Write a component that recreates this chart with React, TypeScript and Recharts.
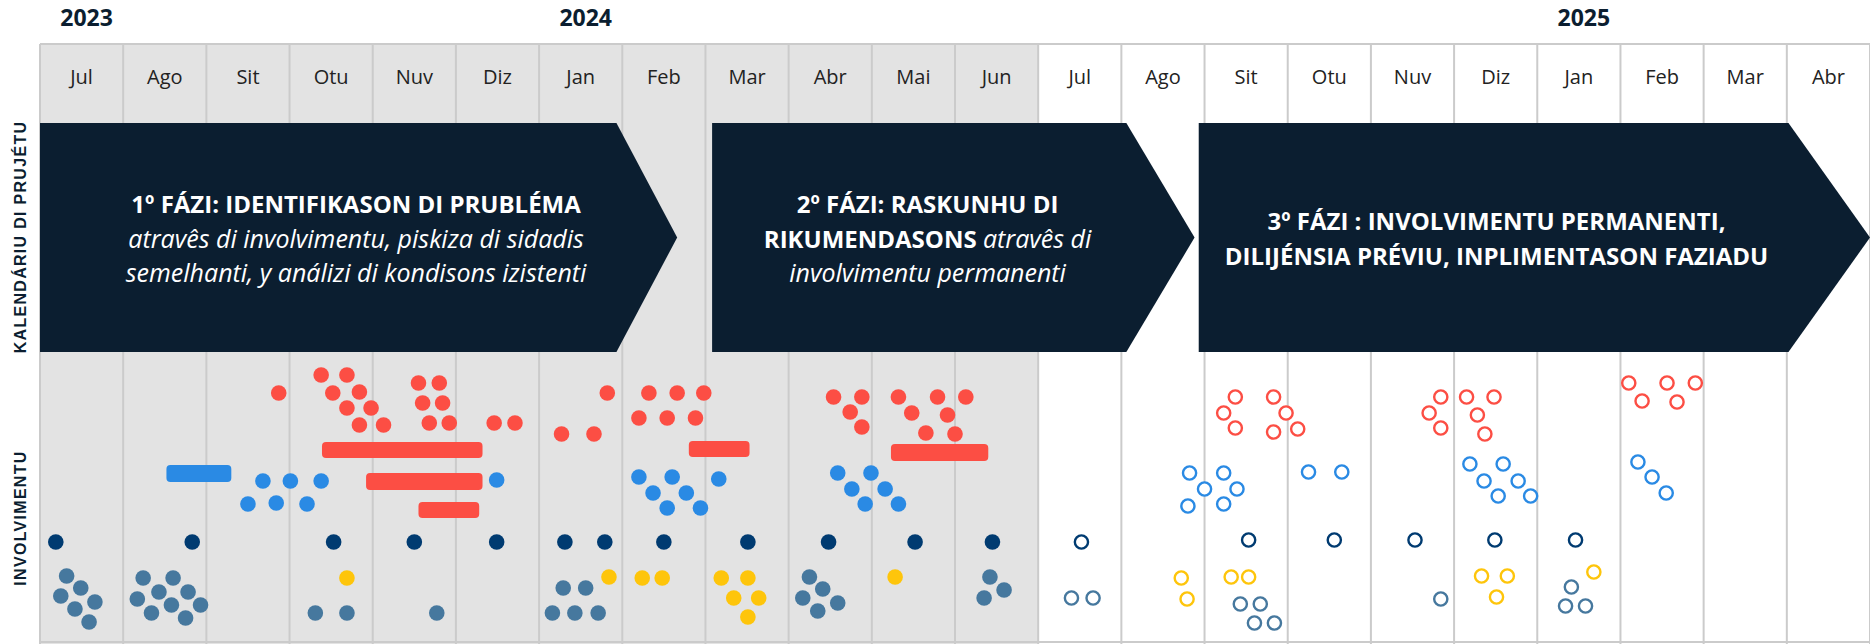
import {
  CartesianGrid,
  ComposedChart,
  ReferenceArea,
  ReferenceLine,
  Scatter,
  XAxis,
  YAxis,
} from 'recharts';

// timeline: one column per month, Jul 2023 .. Abr 2025
const months = [
  'Jul', 'Ago', 'Sit', 'Otu', 'Nuv', 'Diz', 'Jan', 'Feb', 'Mar', 'Abr', 'Mai', 'Jun',
  'Jul', 'Ago', 'Sit', 'Otu', 'Nuv', 'Diz', 'Jan', 'Feb', 'Mar', 'Abr',
];
const monthTicks = months.map((_, i) => i + 0.5);
const monthEdges = months.map((_, i) => i).concat(months.length);
const pastMonths = 12;

const years = ['2023', '2024', '2025'];
const yearStarts = [0, 6, 18];

const laneLabels = ['KALENDÁRIU DI PRUJÉTU', 'INVOLVIMENTU'];
const laneTicks = [40.7, 12.6];

// phase arrows: start, end of body, arrow tip, text centre (months)
type Seg = { text: string; italic?: boolean };
const phaseBand = [29.2, 52.1];
const phases: { start: number; bodyEnd: number; tip: number; textAt: number; lines: Seg[][] }[] = [
  {
    start: 0, bodyEnd: 6.93, tip: 7.66, textAt: 3.8,
    lines: [
      [{ text: '1º FÁZI: IDENTIFIKASON DI PRUBLÉMA' }],
      [{ text: 'atravês di involvimentu, piskiza di sidadis', italic: true }],
      [{ text: 'semelhanti, y análizi di kondisons izistenti', italic: true }],
    ],
  },
  {
    start: 8.08, bodyEnd: 13.06, tip: 13.88, textAt: 10.67,
    lines: [
      [{ text: '2º FÁZI: RASKUNHU DI' }],
      [{ text: 'RIKUMENDASONS ' }, { text: 'atravês di', italic: true }],
      [{ text: 'involvimentu permanenti', italic: true }],
    ],
  },
  {
    start: 13.93, bodyEnd: 21.02, tip: 22, textAt: 17.51,
    lines: [
      [{ text: '3º FÁZI : INVOLVIMENTU PERMANENTI,' }],
      [{ text: 'DILIJÉNSIA PRÉVIU, INPLIMENTASON FAZIADU' }],
    ],
  },
];

// engagement marks: [month, height]
const redFilled = [
  [2.87, 25.1], [3.38, 26.9], [3.69, 26.9], [3.52, 25.1], [3.84, 25.2], [3.69, 23.6], [3.98, 23.6],
  [3.84, 21.9], [4.13, 21.9], [4.55, 26.1], [4.8, 26.1], [4.6, 24.1], [4.84, 24.1], [4.68, 22.1],
  [4.92, 22.1], [5.46, 22.1], [5.71, 22.1], [6.82, 25.1], [6.27, 21.0], [6.66, 21.0],
  [7.32, 25.1], [7.66, 25.1], [7.98, 25.1], [7.2, 22.6], [7.54, 22.6], [7.88, 22.6],
  [9.54, 24.7], [9.88, 24.7], [9.74, 23.2], [9.88, 21.7], [10.32, 24.7], [10.79, 24.7],
  [11.13, 24.7], [10.48, 23.1], [10.91, 22.9], [10.65, 21.1], [11.0, 21.0],
];
const blueFilled = [
  [2.68, 16.3], [3.01, 16.3], [3.38, 16.3], [2.5, 14.0], [2.84, 14.1], [3.21, 14.0], [5.49, 16.4],
  [7.2, 16.7], [7.6, 16.7], [7.37, 15.1], [7.77, 15.1], [7.54, 13.6], [7.94, 13.6], [8.16, 16.5],
  [9.59, 17.1], [9.99, 17.1], [9.76, 15.5], [10.16, 15.5], [9.92, 14.0], [10.32, 14.0],
];
const navyFilled = [
  [0.19, 10.2], [1.83, 10.2], [3.53, 10.2], [4.5, 10.2], [5.49, 10.2], [6.31, 10.2],
  [6.79, 10.2], [7.5, 10.2], [8.51, 10.2], [9.48, 10.2], [10.52, 10.2], [11.45, 10.2],
];
const yellowFilled = [
  [3.69, 6.6], [6.84, 6.7], [7.24, 6.6], [7.48, 6.6], [8.19, 6.6], [8.51, 6.6],
  [8.34, 4.6], [8.64, 4.6], [8.51, 2.7], [10.28, 6.7],
];
const steelFilled = [
  [0.32, 6.8], [0.49, 5.6], [0.25, 4.8], [0.66, 4.2], [0.42, 3.5], [0.59, 2.2],
  [1.24, 6.6], [1.6, 6.6], [1.43, 5.2], [1.78, 5.2], [1.17, 4.5], [1.58, 3.9], [1.93, 3.9],
  [1.34, 3.1], [1.75, 2.6], [3.31, 3.1], [3.69, 3.1], [4.77, 3.1],
  [6.29, 5.6], [6.56, 5.6], [6.16, 3.1], [6.43, 3.1], [6.71, 3.1],
  [9.25, 6.7], [9.41, 5.5], [9.17, 4.6], [9.59, 4.1], [9.35, 3.3],
  [11.42, 6.7], [11.59, 5.4], [11.35, 4.6],
];
const redOpen = [
  [14.37, 24.7], [14.23, 23.1], [14.37, 21.6], [14.83, 24.7], [14.98, 23.1], [14.83, 21.2], [15.12, 21.5],
  [16.84, 24.7], [16.7, 23.1], [16.84, 21.6], [17.15, 24.7], [17.48, 24.7], [17.28, 22.9], [17.37, 21.0],
  [19.1, 26.1], [19.56, 26.1], [19.9, 26.1], [19.26, 24.3], [19.68, 24.2],
];
const blueOpen = [
  [13.82, 17.1], [14.23, 17.1], [14.0, 15.5], [14.39, 15.5], [13.8, 13.8], [14.23, 14.0],
  [15.25, 17.2], [15.65, 17.2],
  [17.19, 18.0], [17.59, 18.0], [17.36, 16.3], [17.77, 16.3], [17.53, 14.8], [17.92, 14.8],
  [19.21, 18.2], [19.38, 16.7], [19.55, 15.1],
];
const navyOpen = [
  [12.52, 10.2], [14.53, 10.4], [15.56, 10.4], [16.53, 10.4], [17.49, 10.4], [18.46, 10.4],
];
const yellowOpen = [
  [13.72, 6.6], [13.79, 4.5], [14.32, 6.7], [14.53, 6.7], [17.33, 6.8], [17.64, 6.8], [17.51, 4.7], [18.68, 7.2],
];
const steelOpen = [
  [12.4, 4.6], [12.66, 4.6], [14.43, 4.0], [14.67, 4.0], [14.6, 2.1], [14.84, 2.1],
  [16.84, 4.5], [18.41, 5.7], [18.34, 3.8], [18.58, 3.8],
];

// longer engagements: [from, to, low, high]
const redSpans = [
  [3.39, 5.32, 18.6, 20.2], [3.92, 5.32, 15.4, 17.1], [4.55, 5.28, 12.6, 14.2],
  [7.8, 8.53, 18.7, 20.3], [10.23, 11.4, 18.3, 20.0],
];
const blueSpans = [[1.52, 2.3, 16.2, 17.9]];

const RED = '#fc4e44';
const BLUE = '#2a8ae4';
const NAVY = '#003b71';
const YELLOW = '#fec50b';
const STEEL = '#46789e';
const INK = '#0b1e30';
const GRID = '#cbcbcb';
const FONT = '"Open Sans", sans-serif';

const pts = (arr: number[][]) => arr.map(([m, h]) => ({ m, h }));

const filled = (color: string) => (p: any) => (
  <circle cx={p.cx} cy={p.cy} r={7.8} fill={color} />
);
const open = (color: string) => (p: any) => (
  <circle cx={p.cx} cy={p.cy} r={6.6} fill="#fff" stroke={color} strokeWidth={2.4} />
);
const pill = (color: string) => (p: any) => (
  <rect x={p.x} y={p.y} width={p.width} height={p.height} rx={4} fill={color} />
);

const arrow = (ph: (typeof phases)[number]) => (p: any) => {
  const { x, y, width, height } = p;
  const per = width / (ph.tip - ph.start);
  const body = x + (ph.bodyEnd - ph.start) * per;
  const mid = y + height / 2;
  const cx = x + (ph.textAt - ph.start) * per;
  const lh = 34.5;
  const top = mid - ((ph.lines.length - 1) * lh) / 2;
  return (
    <g>
      <polygon
        points={`${x},${y} ${body},${y} ${x + width},${mid} ${body},${y + height} ${x},${y + height}`}
        fill={INK}
      />
      {ph.lines.map((line, i) => (
        <text
          key={i}
          x={cx}
          y={top + i * lh}
          textAnchor="middle"
          dominantBaseline="central"
          fill="#fff"
          fontFamily={FONT}
          style={{ whiteSpace: 'pre' }}
        >
          {line.map((s, j) => (
            <tspan
              key={j}
              fontSize={s.italic ? 25 : 24}
              fontWeight={s.italic ? 400 : 700}
              fontStyle={s.italic ? 'italic' : 'normal'}
            >
              {s.text}
            </tspan>
          ))}
        </text>
      ))}
    </g>
  );
};

// month name inside the header row, year above the first month of each year
const MonthTick = (p: any) => {
  const i = Math.floor(p.payload.value);
  const yi = yearStarts.indexOf(i);
  return (
    <g>
      <text x={p.x} y={76} textAnchor="middle" dominantBaseline="central" fontFamily={FONT} fontSize={20} fill="#222">
        {months[i]}
      </text>
      {yi >= 0 && (
        <text x={p.x + 5} y={17} textAnchor="middle" dominantBaseline="central" fontFamily={FONT} fontSize={23} fontWeight={700} fill={INK}>
          {years[yi]}
        </text>
      )}
    </g>
  );
};
const LaneTick = (p: any) => {
  const cx = p.x - 20;
  return (
    <text
      x={cx}
      y={p.y}
      transform={`rotate(-90, ${cx}, ${p.y})`}
      textAnchor="middle"
      dominantBaseline="central"
      fontFamily='"Liberation Sans", Arial, sans-serif'
      fontWeight={700}
      fontSize={16}
      letterSpacing={1.3}
      fill={INK}
    >
      {laneLabels[p.index]}
    </text>
  );
};

export default function App() {
  return (
    <div style={{ position: 'absolute', left: 0, top: 0, width: 1870, height: 644, background: '#fff' }}>
      <ComposedChart width={1870} height={644} margin={{ top: 40, right: 0, bottom: 0, left: 0 }}>
        <CartesianGrid
          horizontal={false}
          verticalValues={monthEdges}
          stroke={GRID}
          strokeWidth={2}
          verticalFill={months.map((_, i) => (i < pastMonths ? '#e3e3e3' : '#ffffff'))}
          fillOpacity={1}
        />
        <XAxis
          dataKey="m"
          type="number"
          orientation="top"
          domain={[0, months.length]}
          ticks={monthTicks}
          interval={0}
          height={4}
          tickSize={0}
          tickMargin={0}
          axisLine={false}
          tickLine={false}
          tick={<MonthTick />}
        />
        <YAxis
          dataKey="h"
          type="number"
          domain={[0, 60]}
          ticks={laneTicks}
          interval={0}
          width={40}
          tickSize={0}
          tickMargin={0}
          axisLine={false}
          tickLine={false}
          tick={<LaneTick />}
        />
        <ReferenceLine y={60} stroke={GRID} strokeWidth={2} />
        <ReferenceLine y={0.2} stroke={GRID} strokeWidth={2} />
        {phases.map((ph, i) => (
          <ReferenceArea
            key={`ph${i}`}
            x1={ph.start}
            x2={ph.tip}
            y1={phaseBand[0]}
            y2={phaseBand[1]}
            shape={arrow(ph)}
          />
        ))}
        {redSpans.map(([a, b, lo, hi], i) => (
          <ReferenceArea key={`r${i}`} x1={a} x2={b} y1={lo} y2={hi} shape={pill(RED)} />
        ))}
        {blueSpans.map(([a, b, lo, hi], i) => (
          <ReferenceArea key={`b${i}`} x1={a} x2={b} y1={lo} y2={hi} shape={pill(BLUE)} />
        ))}
        <Scatter data={pts(redFilled)} shape={filled(RED)} isAnimationActive={false} />
        <Scatter data={pts(blueFilled)} shape={filled(BLUE)} isAnimationActive={false} />
        <Scatter data={pts(navyFilled)} shape={filled(NAVY)} isAnimationActive={false} />
        <Scatter data={pts(yellowFilled)} shape={filled(YELLOW)} isAnimationActive={false} />
        <Scatter data={pts(steelFilled)} shape={filled(STEEL)} isAnimationActive={false} />
        <Scatter data={pts(redOpen)} shape={open(RED)} isAnimationActive={false} />
        <Scatter data={pts(blueOpen)} shape={open(BLUE)} isAnimationActive={false} />
        <Scatter data={pts(navyOpen)} shape={open(NAVY)} isAnimationActive={false} />
        <Scatter data={pts(yellowOpen)} shape={open(YELLOW)} isAnimationActive={false} />
        <Scatter data={pts(steelOpen)} shape={open(STEEL)} isAnimationActive={false} />
      </ComposedChart>
    </div>
  );
}
